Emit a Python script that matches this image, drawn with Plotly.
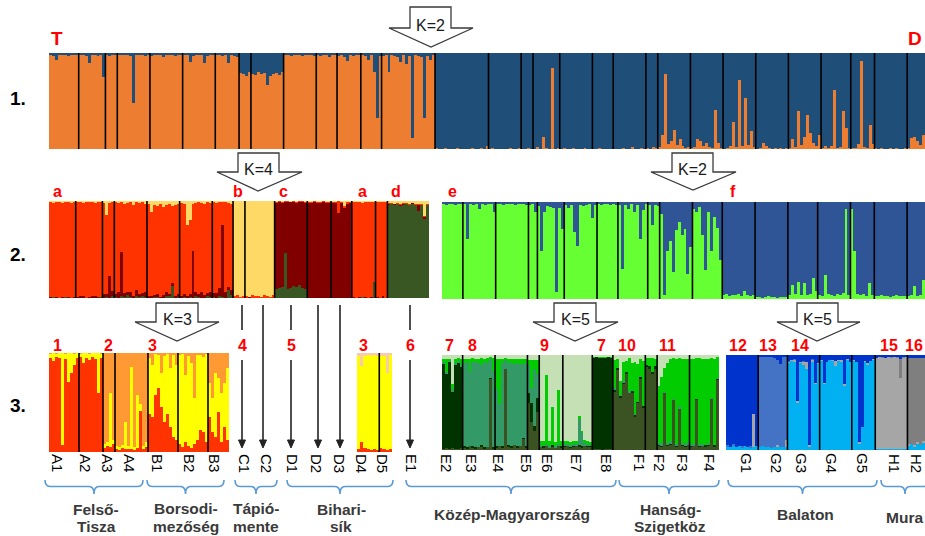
import plotly.graph_objects as go

W, H = 925, 536
FONT = "Liberation Sans, Arial, sans-serif"

# ---------------- DATA (percent ancestry per individual, grouped by population) ----------------
# Row 1 (K=2): orange share (blue = remainder)
R1_ORANGE = [
    [98, 97, 93, 98, 98, 98, 97, 98, 98, 98],
    [98, 98, 97, 90, 98, 98, 97, 98, 75],
    [98, 97, 98, 98],
    [98, 98, 98, 98, 97, 48, 98, 98, 98, 97, 98],
    [97, 98, 98, 98, 96, 98, 98, 98, 97, 98, 98],
    [98, 98, 91, 97, 98, 98, 98, 90, 97, 98, 98],
    [98, 98, 97, 98, 90, 98, 97, 96],
    [79, 78, 76, 80],
    [78, 77, 80, 78, 79, 67, 76, 78, 79, 77, 80],
    [98, 98, 97, 98, 98, 98, 97, 98, 98, 98, 97],
    [98, 97, 98, 98, 96, 98, 98],
    [97, 98, 96, 92, 98, 97, 98, 98],
    [98, 97, 93, 98, 80, 32, 97],
    [97, 98, 80, 98, 97, 96, 91, 98, 89, 97, 11, 98, 97, 96, 32, 97, 93, 98],
    [1, 0, 0, 1, 0, 0, 0, 1, 0, 0, 0, 0, 1, 0, 0, 1, 0, 3],
    [0, 1, 0, 0, 0, 0, 0, 1, 0, 0, 1],
    [0, 0, 1, 0],
    [0, 2, 0, 13, 1, 0, 84, 0, 1],
    [0, 1, 0, 0, 1, 0, 0, 0, 1, 0, 0],
    [0, 0, 1, 0, 0, 0, 0],
    [0, 0, 0, 1, 0, 0, 2, 0, 0, 1, 0],
    [1, 0, 2, 1],
    [2, 15, 78, 5, 8, 20, 4, 10, 3, 1, 2],
    [1, 2, 10, 8, 3, 6, 2, 1, 41, 6, 1],
    [0, 1, 3, 28, 2, 72, 3, 53, 4, 19, 2],
    [0, 1, 6, 3, 1, 0, 1, 0, 1, 0, 1],
    [1, 10, 2, 40, 4, 12, 35, 17, 6, 3, 15],
    [1, 3, 1, 3, 61, 1, 2, 40, 22, 1],
    [1, 1, 5, 92, 2, 1, 25, 5],
    [1, 0, 1, 0, 0, 1, 0, 1, 0, 0, 1],
    [1, 11, 12, 8, 4, 15],
]

# Row 2 left (K=4): yellow, dark red, dark green (red = remainder)
R2L_YELLOW = [
    [1, 2, 1, 1, 2, 1, 1, 2, 1],
    [1, 1, 2, 1, 1, 1, 2, 1, 1],
    [2, 14, 2, 1],
    [1, 2, 1, 3, 2, 1, 4, 1, 2, 1, 3],
    [3, 11, 4, 5, 3, 6, 4, 3, 5, 4, 3],
    [2, 3, 25, 20, 3, 2, 1, 2, 3, 1, 2],
    [1, 2, 1, 1, 1, 2, 3],
    [98, 97, 99, 98],
    [98, 99, 97, 98, 98, 99, 97, 98, 99, 97],
    [1, 0, 1, 0, 0, 1, 0, 1, 0, 0, 1],
    [1, 1, 0, 1, 1, 0, 1, 1],
    [1, 1, 0, 1, 5, 1, 1],
    [1, 1, 1, 2, 1, 1, 1, 1],
    [1, 1, 1, 1],
    [2, 2, 3, 2, 3, 2, 2, 3, 2, 3, 3, 3, 15, 3],
]
R2L_DARKRED = [
    [1, 0, 1, 0, 1, 0, 1, 0, 1],
    [1, 2, 1, 0, 1, 1, 2, 1, 0],
    [4, 3, 23, 5],
    [3, 6, 45, 4, 3, 5, 2, 6, 3, 2, 5],
    [1, 2, 1, 3, 1, 2, 4, 1, 2, 1, 2],
    [2, 3, 2, 3, 48, 4, 3, 6, 2, 3, 5],
    [4, 5, 8, 74, 6, 3, 5],
    [0, 0, 0, 0],
    [0, 1, 0, 0, 1, 0, 0, 0, 0, 1],
    [89, 89, 87, 53, 90, 89, 87, 87, 86, 89, 89],
    [98, 98, 99, 98, 98, 99, 98, 98],
    [98, 98, 88, 98, 93, 97, 98],
    [1, 0, 1, 0, 1, 0, 1, 0],
    [1, 0, 1, 0],
    [1, 0, 1, 0, 1, 1, 0, 0, 1, 0, 6, 0, 2, 0],
]
R2L_GREEN = [
    [0, 1, 0, 0, 0, 1, 0, 0, 0],
    [0, 0, 1, 0, 0, 1, 0, 0, 1],
    [0, 1, 0, 2],
    [1, 0, 2, 1, 3, 1, 0, 2, 1, 3, 1],
    [1, 0, 2, 1, 0, 1, 2, 3, 13, 1, 2],
    [0, 1, 0, 1, 0, 2, 1, 0, 1, 2, 1],
    [1, 0, 2, 1, 0, 8, 3],
    [0, 0, 0, 0],
    [0, 0, 0, 0, 0, 0, 0, 0, 0, 0],
    [9, 10, 11, 46, 9, 10, 12, 11, 13, 10, 9],
    [0, 0, 0, 0, 0, 0, 0, 0],
    [0, 0, 0, 0, 0, 0, 0],
    [0, 0, 0, 1, 0, 0, 0, 17],
    [0, 0, 1, 0],
    [96, 97, 96, 97, 95, 96, 97, 96, 97, 96, 90, 96, 82, 96],
]

# Row 2 right (K=2): green share (blue = remainder)
R2R_GREEN = [
    [98, 97, 98, 98, 97, 98, 98],
    [98, 62, 98, 97, 98, 93, 98, 97, 98, 98, 90],
    [98, 98, 97, 98, 98, 98, 97, 98, 98, 98, 97],
    [97, 98, 90],
    [96, 50, 90, 96, 95, 94, 7, 94, 72],
    [97, 94, 97, 69, 55, 97, 96, 97, 98, 84, 97],
    [98, 97, 98, 98, 97, 98, 97],
    [97, 31, 97, 93, 98, 90, 97, 62, 92, 98],
    [97, 76, 97, 96],
    [88, 4, 49, 60, 28, 71, 79, 66, 72, 26, 54],
    [93, 90, 95, 66, 30, 90, 49, 85, 73, 40],
    [4, 5, 3, 4, 4, 5, 3, 8, 4, 3, 4],
    [2, 2, 1, 2, 3, 2, 2, 1, 2, 2, 2],
    [4, 14, 5, 18, 4, 16, 4, 5, 22, 8],
    [4, 3, 25, 5, 4, 3, 5, 4, 6, 93, 4],
    [93, 50, 5, 4, 5, 3, 16, 4],
    [3, 3, 4, 3, 3, 2, 3, 4, 3, 3, 3],
    [3, 4, 13, 3, 4, 20],
]

# Row 3, panel A (K=3): red, orange (yellow = remainder)
R3A_RED = [
    [95, 92, 96, 95, 7, 94, 71, 80, 88, 95],
    [96, 90, 95, 93, 96, 94, 60, 95],
    [4, 6, 5, 8],
    [3, 2, 4, 3, 3, 3, 2, 4, 41, 3, 5],
    [38, 35, 58, 65, 45, 30, 38, 25, 15, 12],
    [8, 5, 10, 6, 4, 8, 12, 22, 20, 10],
    [35, 20, 15, 40, 10, 25, 12],
]
R3A_ORANGE = [
    [1, 0, 1, 0, 0, 1, 0, 0, 1, 0],
    [1, 0, 0, 1, 0, 0, 0, 1],
    [92, 90, 40, 88],
    [94, 95, 93, 70, 94, 14, 95, 42, 52, 94, 90],
    [5, 12, 1, 2, 20, 3, 1, 15, 2, 12],
    [2, 1, 22, 3, 10, 45, 2, 2, 4, 1],
    [30, 45, 20, 25, 40, 30, 15],
]

# Row 3, panel B (D4-D5): red, peach (yellow = remainder)
R3B_RED = [[3, 10, 4, 3, 2, 3, 2], [4, 3, 2, 3]]
R3B_PEACH = [[3, 13, 3, 2, 3, 2, 3], [3, 3, 20, 2]]

# Row 3, panel C (K=5): olive, dark green, medium green, bright green (light green = remainder)
R3C_OLIVE = [
    [1, 2, 1, 2, 1, 1, 2],
    [3, 2, 4, 3, 2, 3, 4, 2, 3, 75, 2],
    [3, 4, 3, 85, 4, 3, 5, 3, 4, 12, 3],
    [50, 30, 20, 40],
    [4, 3, 5, 3, 4, 3, 5, 3],
    [4, 5, 3, 4, 5, 4, 3, 5, 4, 4],
    [1, 1, 1, 0, 1, 1, 1],
    [62, 85, 55, 70, 80, 60, 60, 35, 50, 75, 45],
    [88, 85, 80, 86],
    [5, 4, 60, 5, 6, 53, 4, 44, 5, 4, 6],
    [4, 5, 53, 4, 5, 4, 5, 54, 4, 74],
]
R3C_DARK = [
    [90, 78, 92, 60, 88, 91, 85],
    [1, 1, 0, 1, 1, 0, 1, 1, 0, 1, 1],
    [1, 0, 1, 0, 1, 1, 0, 1, 0, 1, 1],
    [10, 20, 5, 15],
    [0, 1, 0, 0, 1, 0, 0, 1],
    [1, 0, 1, 1, 0, 1, 1, 0, 1, 1],
    [96, 97, 96, 97, 96, 97, 96],
    [2, 1, 2, 1, 2, 1, 2, 2, 1, 2, 1],
    [2, 3, 2, 2],
    [1, 1, 0, 1, 1, 0, 1, 0, 1, 1, 0],
    [1, 0, 1, 1, 0, 1, 1, 0, 1, 1],
]
R3C_MED = [
    [2, 2, 1, 2, 3, 2, 3],
    [88, 90, 78, 89, 90, 89, 84, 90, 89, 20, 80],
    [60, 44, 88, 10, 87, 88, 86, 88, 87, 78, 88],
    [30, 15, 60, 25],
    [1, 0, 1, 1, 0, 1, 1, 0],
    [1, 2, 1, 1, 2, 28, 14, 2, 1, 1],
    [0, 0, 0, 0, 0, 0, 0],
    [1, 0, 1, 2, 0, 1, 0, 1, 0, 1, 0],
    [0, 0, 0, 0],
    [1, 2, 1, 1, 2, 1, 1, 2, 1, 1, 2],
    [1, 1, 0, 1, 1, 0, 1, 1, 0, 1],
]
R3C_BRIGHT = [
    [3, 14, 2, 6, 4, 3, 6],
    [4, 3, 14, 4, 3, 4, 8, 3, 5, 2, 14],
    [32, 48, 4, 2, 4, 4, 5, 4, 5, 5, 4],
    [5, 30, 10, 15],
    [4, 5, 73, 5, 40, 4, 57, 6],
    [3, 2, 3, 4, 2, 3, 2, 4, 3, 2],
    [1, 0, 1, 1, 1, 0, 1],
    [30, 10, 15, 20, 12, 35, 30, 55, 40, 18, 48],
    [7, 9, 15, 8],
    [60, 70, 25, 85, 87, 43, 90, 51, 89, 90, 88],
    [90, 90, 43, 91, 90, 91, 89, 42, 91, 22],
]

# Row 3, panel D (K=5): light blue, grey, dark grey, medium blue (dark blue = remainder)
R3D_LIGHT = [
    [4, 3, 5, 3, 4, 3, 4, 3, 3, 3, 4],
    [3, 4, 3, 3, 2, 3, 4, 3, 3, 3],
    [92, 94, 93, 50, 92, 90, 85, 4, 93, 70, 91],
    [94, 70, 93, 95, 94, 88, 94, 93, 68, 95, 93],
    [94, 93, 7, 24, 93, 90, 94, 95],
    [1, 1, 1, 1, 1, 1, 1, 1, 1, 1, 1],
    [5, 6, 4, 7, 5, 8],
]
R3D_GRAY = [
    [0, 0, 0, 0, 0, 0, 0, 0, 0, 35, 0],
    [0, 0, 0, 0, 0, 0, 1, 0, 0, 8],
    [1, 1, 2, 2, 1, 3, 8, 1, 2, 1, 1],
    [1, 1, 0, 0, 1, 6, 1, 2, 1, 1, 0],
    [1, 0, 1, 0, 1, 2, 0, 1],
    [96, 97, 96, 96, 97, 96, 97, 96, 75, 96, 97],
    [1, 0, 1, 1, 0, 1],
]
R3D_DGRAY = [
    [0, 0, 0, 0, 0, 0, 0, 0, 0, 0, 0],
    [0, 0, 0, 0, 0, 0, 0, 0, 0, 0],
    [0, 0, 0, 0, 0, 0, 0, 0, 0, 0, 0],
    [0, 0, 0, 0, 0, 0, 0, 0, 0, 0, 0],
    [0, 0, 0, 0, 0, 0, 0, 0],
    [0, 0, 1, 0, 0, 1, 0, 1, 20, 1, 0],
    [91, 91, 92, 89, 92, 88],
]
R3D_MED = [
    [1, 0, 1, 0, 0, 1, 0, 0, 1, 0, 0],
    [95, 94, 95, 95, 96, 94, 90, 88, 95, 87],
    [1, 0, 1, 0, 0, 1, 0, 0, 1, 0, 0],
    [0, 0, 0, 0, 0, 0, 0, 0, 0, 0, 0],
    [0, 0, 0, 0, 0, 0, 0, 0],
    [0, 0, 0, 0, 0, 0, 0, 0, 0, 0, 0],
    [0, 0, 0, 0, 0, 0],
]

SAMPLE_LABELS = ["A1", "A2", "A3", "A4", "B1", "B2", "B3", "C1", "C2", "D1", "D2", "D3", "D4", "D5",
                 "E1", "E2", "E3", "E4", "E5", "E6", "E7", "E8", "F1", "F2", "F3", "F4",
                 "G1", "G2", "G3", "G4", "G5", "H1", "H2"]
REGION_LABELS = [["Felső-", "Tisza"], ["Borsodi-", "mezőség"], ["Tápió-", "mente"], ["Bihari-", "sík"],
                 ["Közép-Magyarország"], ["Hanság-", "Szigetköz"], ["Balaton"], ["Mura"]]
ROW2_LETTERS = ["a", "b", "c", "a", "d", "e", "f"]
ROW3_NUMBERS = ["1", "2", "3", "4", "5", "3", "6", "7", "8", "9", "7", "10", "11", "12", "13", "14", "15", "16"]

# ---------------- LAYOUT (pixel geometry) ----------------
def X(p):
    return p / W


def Y(p):
    return 1 - p / H


fig = go.Figure()
shapes = []
annotations = []
axes = {}
count = [0]


def note(x, y, text, size, color, **kw):
    d = dict(x=X(x), y=Y(y), xref="paper", yref="paper", text=text, showarrow=False,
             xanchor="center", yanchor="middle", font=dict(family=FONT, size=size, color=color))
    d.update(kw)
    annotations.append(d)


def flat(nested):
    return [v for pop in nested for v in pop]


def add_panel(x0, x1, y0, y1, comps, lw=1.6):
    count[0] += 1
    k = count[0]
    xa = "x" if k == 1 else f"x{k}"
    ya = "y" if k == 1 else f"y{k}"
    given = [d for _, d in comps if d is not None]
    sizes = [len(p) for p in given[0]]
    n = sum(sizes)
    flats = [flat(g) for g in given]
    rem = [max(0, 100 - sum(v)) for v in zip(*flats)]
    xs = list(range(n))
    for color, data in comps:
        ys = rem if data is None else flat(data)
        fig.add_trace(go.Bar(x=xs, y=ys, width=1.0,
                             marker=dict(color=color, line=dict(width=0)),
                             xaxis=xa, yaxis=ya, showlegend=False, hoverinfo="skip"))
    axes["xaxis" if k == 1 else f"xaxis{k}"] = dict(domain=[X(x0), X(x1)], range=[-0.5, n - 0.5],
                                                     visible=False, fixedrange=True, anchor=ya)
    axes["yaxis" if k == 1 else f"yaxis{k}"] = dict(domain=[Y(y1), Y(y0)], range=[0, 100],
                                                     visible=False, fixedrange=True, anchor=xa)
    b = 0
    for s in sizes[:-1]:
        b += s
        shapes.append(dict(type="line", xref=xa, yref=f"{ya} domain", x0=b - 0.5, x1=b - 0.5,
                           y0=0, y1=1, line=dict(color="black", width=lw), layer="above"))


# Row 1
add_panel(49, 925, 53, 149, [("#ED7D31", R1_ORANGE), ("#1F4E79", None)])
# Row 2
add_panel(49, 429, 201, 298, [("#385723", R2L_GREEN), ("#800000", R2L_DARKRED),
                              ("#FF3300", None), ("#FFD966", R2L_YELLOW)])
add_panel(442, 925, 202, 299, [("#66FF33", R2R_GREEN), ("#2F5597", None)])
# Row 3
add_panel(49, 229, 353, 452, [("#FF3300", R3A_RED), ("#FFFF00", None), ("#FF9933", R3A_ORANGE)])
add_panel(357, 392, 353, 452, [("#FF3300", R3B_RED), ("#FFFF00", None), ("#F8CBAD", R3B_PEACH)])
add_panel(442, 719, 355, 450, [("#3B5323", R3C_OLIVE), ("#003300", R3C_DARK), ("#339966", R3C_MED),
                               ("#00CC00", R3C_BRIGHT), ("#C5E0B4", None)])
add_panel(726, 925, 355, 450, [("#00B0F0", R3D_LIGHT), ("#A6A6A6", R3D_GRAY), ("#7F7F7F", R3D_DGRAY),
                               ("#4472C4", R3D_MED), ("#0033CC", None)])


def block_arrow(tip_x, tip_y, sx0, sx1, top_y, head_y, hx0, hx1, label):
    pts = [(sx0, top_y), (sx1, top_y), (sx1, head_y), (hx1, head_y), (tip_x, tip_y),
           (hx0, head_y), (sx0, head_y)]
    path = "M " + " L ".join(f"{X(a):.5f},{Y(b):.5f}" for a, b in pts) + " Z"
    shapes.append(dict(type="path", xref="paper", yref="paper", path=path, fillcolor="white",
                       line=dict(color="#3a3a3a", width=1.3), layer="above"))
    note((sx0 + sx1) / 2, head_y - 3, label, 16, "#1a1a1a")


block_arrow(431, 47, 410, 451, 7, 28, 389, 473, "K=2")
block_arrow(258, 191, 238, 279, 153, 172, 217, 302, "K=4")
block_arrow(693, 190, 672, 713, 153, 172, 651, 736, "K=2")
block_arrow(177, 341, 156, 198, 303, 322, 135, 219, "K=3")
block_arrow(575, 341, 554, 596, 303, 322, 533, 618, "K=5")
block_arrow(817, 341, 797, 838, 303, 322, 777, 860, "K=5")

# thin downward arrows between rows 2 and 3
for ax_, gap in [(242, True), (263, False), (291, True), (318, False), (340, False), (410, True)]:
    segs = [(305, 330), (360, 441)] if gap else [(305, 441)]
    for a, b in segs:
        shapes.append(dict(type="line", xref="paper", yref="paper", x0=X(ax_), x1=X(ax_),
                           y0=Y(a), y1=Y(b), line=dict(color="#222222", width=1.6)))
    tri = f"M {X(ax_ - 3.5):.5f},{Y(440):.5f} L {X(ax_ + 3.5):.5f},{Y(440):.5f} L {X(ax_):.5f},{Y(448):.5f} Z"
    shapes.append(dict(type="path", xref="paper", yref="paper", path=tri, fillcolor="#222222",
                       line=dict(color="#222222", width=1)))

# row labels
for txt, yy in [("1.", 98), ("2.", 254), ("3.", 405)]:
    note(18, yy, f"<b>{txt}</b>", 19, "black")

# red group letters
RED = "#FF0000"
for txt, xx in [("T", 57), ("D", 915)]:
    note(xx, 38, f"<b>{txt}</b>", 19, RED)
for txt, xx in zip(ROW2_LETTERS, [57, 238, 283, 362, 396, 452, 733]):
    note(xx, 192, f"<b>{txt}</b>", 16, RED)
for txt, xx in zip(ROW3_NUMBERS, [57, 108, 152, 242, 291, 363, 410, 449, 472, 544, 601, 627, 667,
                                  738, 768, 800, 889, 914]):
    note(xx, 345, f"<b>{txt}</b>", 16, RED)

# sample labels (rotated)
LABEL_X = [58, 86, 108, 130, 158, 190, 215, 245, 267, 293, 317, 340, 362, 383, 412,
           447, 472, 499, 527, 548, 577, 607, 640, 660, 683, 710, 747, 777, 802, 832, 863, 895, 917]
for txt, xx in zip(SAMPLE_LABELS, LABEL_X):
    note(xx, 463, txt, 15, "black", textangle=90)

# braces + region labels (one annotation per text line)
BRACES = [(45, 143), (147, 224), (235, 277), (287, 393), (406, 616), (619, 719), (728, 877), (881, 929)]
REGION_X = [96, 186, 256, 341, 512, 670, 805, 904]
REGION_LINE_Y = [[509, 526], [508, 526], [508, 526], [509, 526], [514], [509, 526], [514], [517]]
for (a, b), lab, lx, lys in zip(BRACES, REGION_LABELS, REGION_X, REGION_LINE_Y):
    m = (a + b) / 2
    yt, yb, ytip, r = 480, 486.5, 494, 5
    d = (f"M {X(a):.5f},{Y(yt):.5f} Q {X(a):.5f},{Y(yb):.5f} {X(a + r):.5f},{Y(yb):.5f} "
         f"L {X(m - r):.5f},{Y(yb):.5f} Q {X(m):.5f},{Y(yb):.5f} {X(m):.5f},{Y(ytip):.5f} "
         f"Q {X(m):.5f},{Y(yb):.5f} {X(m + r):.5f},{Y(yb):.5f} "
         f"L {X(b - r):.5f},{Y(yb):.5f} Q {X(b):.5f},{Y(yb):.5f} {X(b):.5f},{Y(yt):.5f}")
    shapes.append(dict(type="path", xref="paper", yref="paper", path=d, fillcolor="rgba(0,0,0,0)",
                       line=dict(color="#5B9BD5", width=1.6)))
    for line_txt, ly in zip(lab, lys):
        note(lx, ly, f"<b>{line_txt}</b>", 15.5, "#3a3a3a", borderpad=0)

fig.update_layout(width=W, height=H, autosize=False, margin=dict(l=0, r=0, t=0, b=0, pad=0),
                  paper_bgcolor="white", plot_bgcolor="white", barmode="stack", bargap=0,
                  shapes=shapes, annotations=annotations, **axes)

fig.write_html("out.html", config={"displayModeBar": False})

# remove the default page margin so the figure sits at the window's top-left corner
with open("out.html", "r", encoding="utf-8") as fh:
    html = fh.read()
html = html.replace("<head>", "<head><style>html,body{margin:0;padding:0;overflow:hidden;}</style>", 1)
with open("out.html", "w", encoding="utf-8") as fh:
    fh.write(html)
